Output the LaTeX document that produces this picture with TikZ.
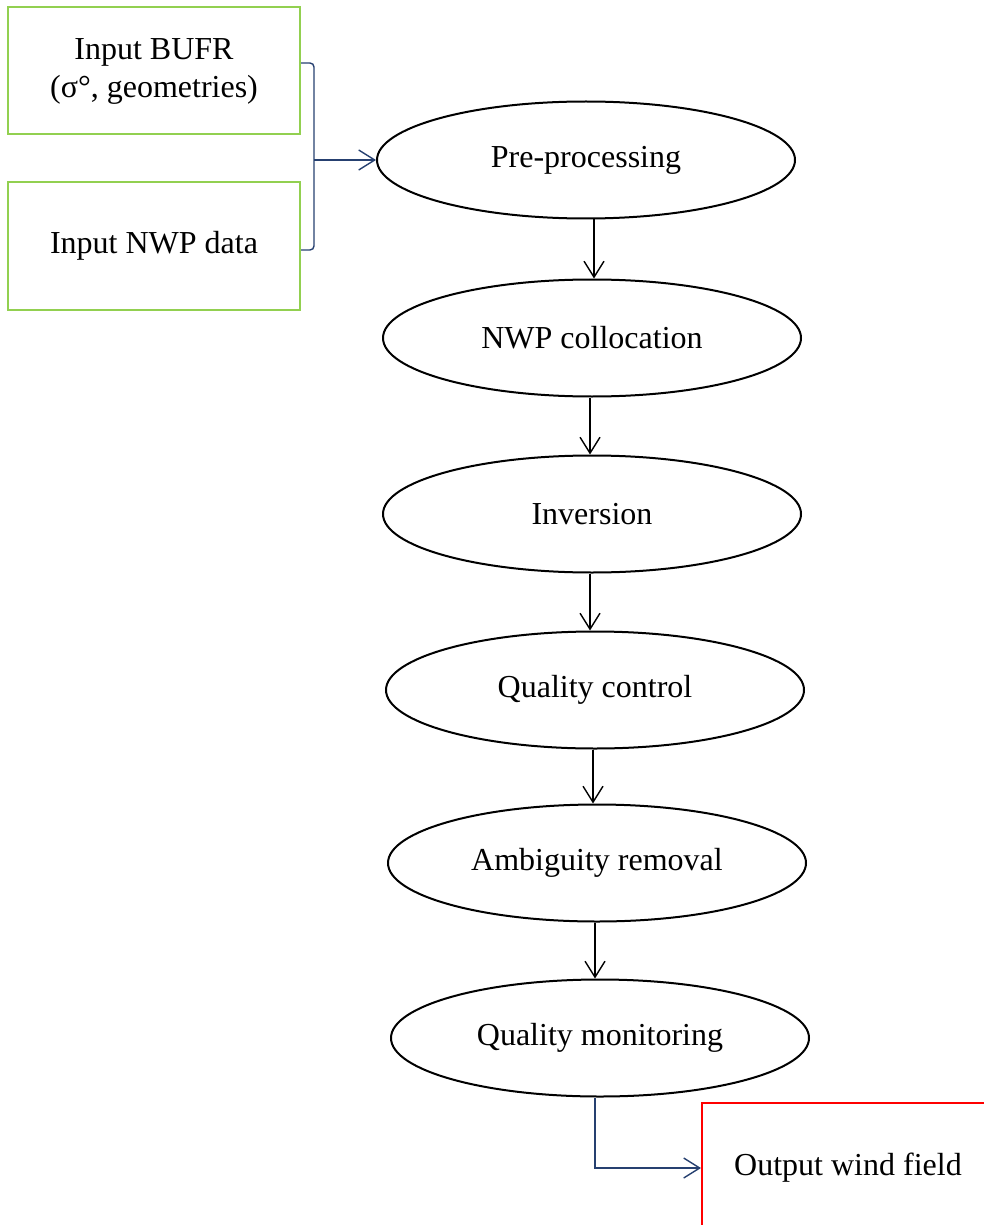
\documentclass[tikz,border=0pt]{standalone}
\usepackage{fontspec}
\setmainfont{Liberation Serif}
\usepackage{xcolor}
\usepackage{tikz}
\usetikzlibrary{arrows.meta,positioning,shapes.geometric}

\definecolor{inputgreen}{RGB}{146,208,80}
\definecolor{linkblue}{RGB}{38,64,112}

\tikzset{
  inbox/.style={draw=inputgreen, line width=1pt, minimum width=146pt, minimum height=63.5pt, align=center},
  procstep/.style={ellipse, draw, line width=1pt, minimum width=209pt, minimum height=58.5pt},
  outbox/.style={draw=red, line width=1pt, minimum width=146pt, minimum height=65pt},
  flow/.style={-{Straight Barb[length=8pt,width=10pt]}, line width=0.7pt},
  link/.style={flow, linkblue}
}

\begin{document}
\begin{tikzpicture}[font=\fontsize{16}{19}\selectfont, x=0.5pt, y=-0.5pt]
\useasboundingbox (0,0) rectangle (984,1225);
\begin{scope}
\clip (0,0) rectangle (984,1225);
\node[inbox] (bufr) at (154,71) {Input BUFR\\(σ°, geometries)};
\node[inbox] (nwp) at (154,246) {Input NWP data};
\node[procstep] (pre) at (586,160) {Pre-processing};
\node[procstep] (coll) at (592,338) {NWP collocation};
\node[procstep] (inv) at (592,514) {Inversion};
\node[procstep] (qc) at (595,690) {Quality control};
\node[procstep] (amb) at (597,863) {Ambiguity removal};
\node[procstep] (qm) at (600,1038) {Quality monitoring};
\node[outbox] (out) at (848,1168) {Output wind field};
\end{scope}
% inputs joined by a bracket
\coordinate (nwpend) at ([yshift=-2pt]nwp.east);
\draw[linkblue, line width=0.7pt, rounded corners=2pt] ([yshift=4pt]bufr.east) -- ++(13,0) coordinate (brk) -- (brk |- nwpend) -- (nwpend);
\coordinate (junc) at (brk |- pre.west);
\draw[link] (junc) -- (pre.west);
% processing chain
\draw[flow] ([xshift=4pt]pre.south) -- ([xshift=4pt]pre.south |- coll.north);
\foreach \a/\b in {coll/inv, inv/qc, qc/amb, amb/qm}
  \draw[flow] ([xshift=-1pt]\a.south) -- ([xshift=-1pt]\a.south |- \b.north);
\draw[link] ([xshift=-2.5pt]qm.south) |- (out.west);
\end{tikzpicture}
\end{document}
